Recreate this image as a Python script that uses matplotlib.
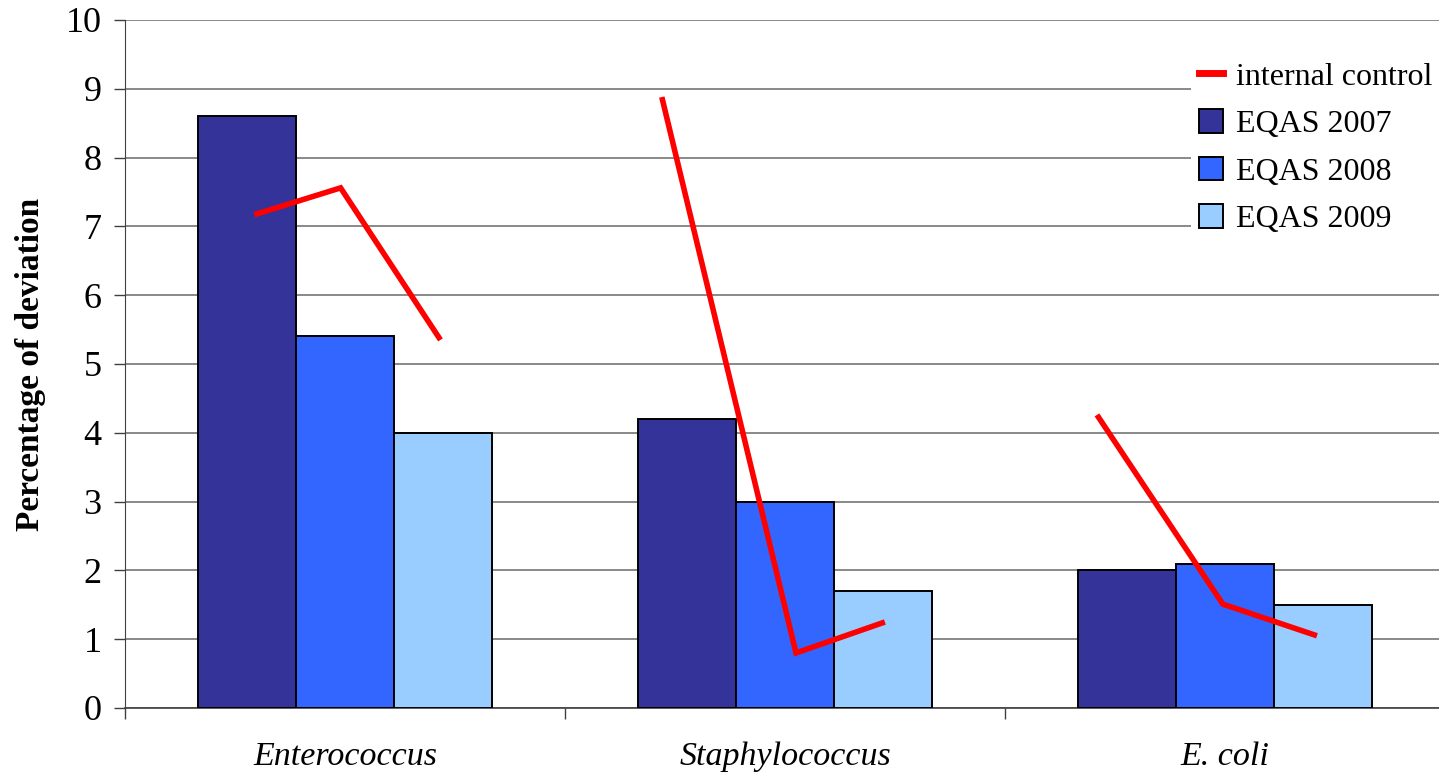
import matplotlib
matplotlib.use("Agg")
import matplotlib.pyplot as plt
from matplotlib.lines import Line2D
from matplotlib.patches import Patch
import numpy as np

plt.rcParams['font.family'] = ['Liberation Serif', 'DejaVu Serif']

categories = ["Enterococcus", "Staphylococcus", "E. coli"]
series_names = ["EQAS 2007", "EQAS 2008", "EQAS 2009"]
eqas_2007 = [8.6, 4.2, 2.0]
eqas_2008 = [5.4, 3.0, 2.1]
eqas_2009 = [4.0, 1.7, 1.5]

# internal control: three readings per organism, with their horizontal offsets
control_values = [
    [7.17, 7.56, 5.35],
    [8.88, 0.80, 1.25],
    [4.26, 1.51, 1.05],
]
control_offsets = [
    [-0.206, -0.010, 0.217],
    [-0.280, 0.025, 0.227],
    [-0.291, -0.005, 0.209],
]

colors = ["#333399", "#3366FF", "#99CCFF"]
red = "#FF0000"

fig = plt.figure(figsize=(14.39, 7.77), dpi=100)
ax = fig.add_axes([125 / 1439, 69 / 777, 1320 / 1439, 688 / 777])

x = np.arange(len(categories))
bar_w = 0.222
for i, (vals, c) in enumerate(zip([eqas_2007, eqas_2008, eqas_2009], colors)):
    ax.bar(x + (i - 1) * bar_w, vals, width=bar_w, color=c,
           edgecolor="black", linewidth=1.4, zorder=3)

for xi, offs, vals in zip(x, control_offsets, control_values):
    ax.plot(xi + np.array(offs), vals, color=red, linewidth=4.0,
            solid_capstyle="butt", solid_joinstyle="miter", zorder=4)

ax.set_xlim(-0.5, 2.5)
ax.set_ylim(0, 10)
ax.set_yticks(range(0, 11))
ax.yaxis.grid(True, color="#808080", linewidth=1.3, zorder=0)
ax.set_axisbelow(True)

ax.set_xticks([-0.5, 0.5, 1.5])
ax.set_xticklabels([])
ax.set_xticks(x, minor=True)
ax.set_xticklabels(categories, minor=True, fontstyle="italic", fontsize=24.5)
ax.tick_params(axis="x", which="minor", length=0, pad=24)
ax.tick_params(axis="x", which="major", length=8, width=1, color="#404040",
               direction="out")
ax.tick_params(axis="y", length=8, width=1, color="#404040", labelsize=26,
               pad=9)

for s in ["top", "right"]:
    ax.spines[s].set_visible(False)
ax.spines["left"].set_color("#404040")
ax.spines["bottom"].set_color("#404040")
ax.spines["bottom"].set_linewidth(1.2)

ax.set_ylabel("Percentage of deviation", fontsize=24, fontweight="bold",
              labelpad=14)

handles = [Line2D([0], [0], color=red, linewidth=5)] + [
    Patch(facecolor=c, edgecolor="black", linewidth=1.4) for c in colors]
labels = ["internal control"] + series_names
leg = fig.legend(handles, labels, loc="upper right",
                 bbox_to_anchor=(1456 / 1439, 1 - 38 / 777),
                 fontsize=23, frameon=True, framealpha=1, edgecolor="none",
                 handlelength=0.75, handleheight=0.75, handletextpad=0.4,
                 labelspacing=0.55, borderpad=0.25, fancybox=False)

fig.savefig("out.png", dpi=100)
